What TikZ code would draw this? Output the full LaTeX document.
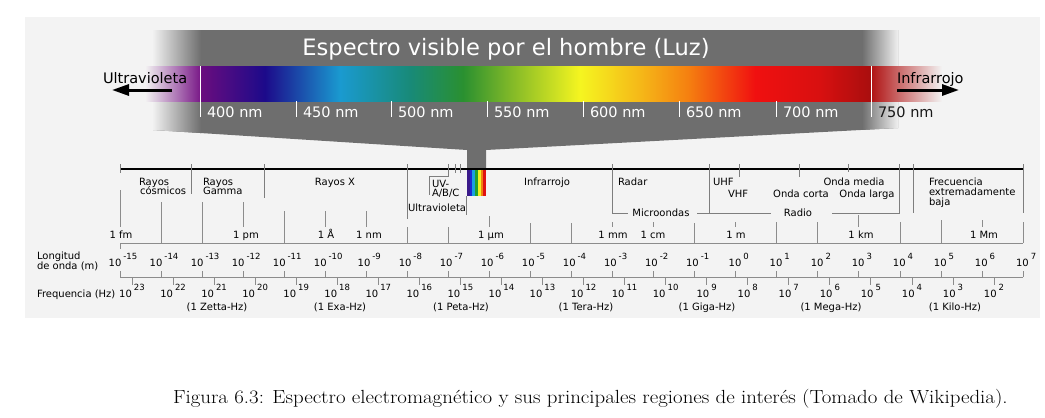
\documentclass[tikz,border=0pt]{standalone}
\usepackage{fontspec}
\newfontfamily\dv{DejaVu Sans}
\usetikzlibrary{arrows.meta}
\definecolor{panel}{HTML}{F3F3F3}
\definecolor{funnel}{HTML}{6E6E6E}
\definecolor{axisgray}{HTML}{8C8C8C}
\definecolor{uvpurple}{HTML}{7A1A88}
\definecolor{irred}{HTML}{B01212}
\definecolor{spA}{HTML}{6B0D7E}
\definecolor{spB}{HTML}{1C0A8A}
\definecolor{spC}{HTML}{1A9AD0}
\definecolor{spD}{HTML}{188A78}
\definecolor{spE}{HTML}{2A9030}
\definecolor{spF}{HTML}{80B828}
\definecolor{spG}{HTML}{F5F520}
\definecolor{spH}{HTML}{F5B818}
\definecolor{spI}{HTML}{F58010}
\definecolor{spJ}{HTML}{F01010}
\definecolor{spK}{HTML}{D81010}
\definecolor{spL}{HTML}{A80E0E}
\pgfdeclarehorizontalshading{spec}{100bp}{color(0bp)=(spA); color(25bp)=(spA); color(29.84bp)=(spB); color(35.43bp)=(spC); color(40.65bp)=(spD); color(44.6bp)=(spE); color(48.1bp)=(spF); color(53.32bp)=(spG); color(57.79bp)=(spH); color(61.36bp)=(spI); color(66.36bp)=(spJ); color(71.2bp)=(spK); color(75bp)=(spL); color(100bp)=(spL)}
\tikzset{
  big/.style={font=\dv\fontsize{14.5}{16}\selectfont},
  nmlbl/.style={big, text=white, anchor=base west},
  lbl/.style={font=\dv\fontsize{10}{12}\selectfont, anchor=base},
  lblw/.style={lbl, anchor=base west},
  axisline/.style={draw=axisgray, line width=0.9pt},
  divider/.style={draw=axisgray!90!black, line width=0.9pt},
  bigarrow/.style={line width=3pt, -{Triangle[length=17pt,width=11pt]}},
}
\newcommand{\expo}[2]{10\hspace{2pt}\raisebox{#2}{\fontsize{8.5}{9}\selectfont #1}}
\begin{document}
\begin{tikzpicture}[x=1pt,y=-1pt, every node/.style={inner sep=0pt, outer sep=0pt}]
\useasboundingbox (0,0) rectangle (1045,418);
\fill[white] (0,0) rectangle (1045,418);
\fill[panel] (25,17) rectangle (1040,318);
% funnel
\fill[funnel] (153,30) -- (898,30) -- (898,128) -- (486,150) -- (486,170) -- (467,170) -- (467,150) -- (153,130) -- cycle;
\begin{scope}
  \clip (153,30) -- (898,30) -- (898,128) -- (486,150) -- (467,150) -- (153,130) -- cycle;
  \shade[left color=panel, right color=funnel] (152,25) rectangle (201,140);
  \shade[left color=funnel, right color=panel] (862,25) rectangle (899,140);
\end{scope}
% visible bar
\shade[shading=spec] (200,66) rectangle (871,101);
\shade[left color=panel, right color=uvpurple] (145,66) rectangle (200,101);
\shade[left color=irred, right color=panel] (871,66) rectangle (942,101);
\node[font=\dv\fontsize{22.6}{24}\selectfont, text=white, anchor=base] (title) at (506,55) {Espectro visible por el hombre (Luz)};
% nm ticks
\foreach \xx/\t in {200/400,296/450,391/500,487/550,583/600,679/650,776/700}{
  \draw[white, line width=1pt] (\xx,101) -- (\xx,117);
  \node[nmlbl] (nm\t) at (\xx+7,117) {\t\ nm};
}
\draw[white, line width=1pt] (200,66) -- (200,101);
\draw[white, line width=1pt] (871,66) -- (871,117);
\node[big, anchor=base west, text=black!90] (nm750) at (878,117) {750 nm};
% UV / IR
\node[big, anchor=base west] (uvtxt) at (103,83) {Ultravioleta};
\coordinate (uvS) at (172,90); \coordinate (uvE) at (112,90);
\draw[bigarrow] (uvS) -- (uvE);
\node[big, anchor=base west] (irtxt) at (897,83) {Infrarrojo};
\coordinate (irS) at (897,90); \coordinate (irE) at (959,90);
\draw[bigarrow] (irS) -- (irE);
% mini rainbow
\foreach \c [count=\i from 0] in {3A1A8A,1A2AD0,18A0E0,20A030,F0F020,F08010,E01010}{
  \definecolor{tmpc}{HTML}{\c}
  \fill[tmpc] (467+\i*2.715,169) rectangle (467+\i*2.715+2.715,196);
}
% top region line
\draw[black, line width=1.2pt] (120,169) -- (1023,169);
% region dividers
\draw[divider] (120,164) -- (120,173);
\draw[divider] (191,164) -- (191,194);
\draw[divider] (264,164) -- (264,198);
\draw[divider] (407,164) -- (407,219);
\draw[divider] (455,164) -- (455,173);
\draw[divider] (460,164) -- (460,173);
\draw[divider] (448,164) -- (448,176) -- (429,176) -- (429,195);
\draw[divider] (466,196) -- (466,215);
\draw[divider] (612,164) -- (612,213) -- (628,213);
\draw[divider] (697,213) -- (771,213);
\draw[divider] (709,164) -- (709,213);
\draw[divider] (739,164) -- (739,177);
\draw[divider] (799,164) -- (799,177);
\draw[divider] (848,164) -- (848,172);
\draw[divider] (832,213) -- (899,213) -- (899,164);
\draw[divider] (913,164) -- (913,213);
\draw[divider] (1023,164) -- (1023,213);
% region labels
\node[lblw] (rc1) at (139,185) {Rayos};
\node[lblw] (rc2) at (140,194) {cósmicos};
\node[lblw] (rg1) at (203,185) {Rayos};
\node[lblw] (rg2) at (203,194) {Gamma};
\node[lbl] (rx) at (335,185) {Rayos X};
\node[lblw] (uv1) at (432,187) {UV-};
\node[lblw] (uv2) at (432,196) {A/B/C};
\node[lblw] (uv3) at (408,211) {Ultravioleta};
\node[lbl] (ir) at (547,185) {Infrarrojo};
\node[lblw] (radar) at (618,185) {Radar};
\node[lbl] (micro) at (661,216) {Microondas};
\node[lblw] (uhf) at (713,185) {UHF};
\node[lblw] (vhf) at (728,197.5) {VHF};
\node[lbl] (omed) at (854,185) {Onda media};
\node[lbl] (ocor) at (801,197.5) {Onda corta};
\node[lbl] (olar) at (867,197.5) {Onda larga};
\node[lbl] (radio) at (798,216) {Radio};
\node[lblw] (elf1) at (929,185) {Frecuencia};
\node[lblw] (elf2) at (929,195) {extremadamente};
\node[lblw] (elf3) at (929,205) {baja};
% wavelength decade lines above axis
\foreach \e/\a/\b in {-15/190/227,-14/202/243,-13/202/243,-12/202/227,-11/211/243,-10/211/227,-9/211/227,-8/227/243,-7/227/243,-6/216/227,-5/223/243,-4/223/243,-3/222/227,-2/222/227,-1/223/243,0/222/227,1/222/243,2/222/243,3/215/227,4/222/243,5/220/243,6/220/227,7/222/243}{
  \pgfmathsetmacro\xx{120+41.05*(\e+15)}
  \draw[axisline] (\xx,\a) -- (\xx,\b);
  \draw[axisline] (\xx,271) -- (\xx,277);
}
\draw[axisline] (120,243) -- (1023,243);
\draw[axisline] (120,277) -- (1023,277);
\draw[axisline] (120,243) -- (120,249);
% unit labels
\foreach \xx/\t [count=\i] in {121/1 fm,246/1 pm,326/1 Å,369/1 nm,491/1 µm,613/1 mm,653/1 cm,736/1 m,861/1 km,984/1 Mm}{
  \node[lbl] (unit\i) at (\xx,238) {\t};
}
% wavelength exponents
\foreach \e [count=\i] in {-15,...,7}{
  \pgfmathsetmacro\xx{120+41.05*(\e+15)}
  \node[lbl] (wl\i) at (\xx+3,266) {\expo{\e}{6.5pt}};
}
% frequency ticks and labels
\foreach \n [count=\i] in {23,22,...,2}{
  \pgfmathsetmacro\xf{132+41.05*(23-\n)}
  \draw[axisline] (\xf,277) -- (\xf,285);
  \node[lbl] (fq\i) at (\xf,297.7) {\expo{\n}{7pt}};
}
\foreach \xx/\t [count=\i] in {217/Zetta,340/Exa,461/Peta,586/Tera,707/Giga,831/Mega,955/Kilo}{
  \node[lbl] (pref\i) at (\xx,310.5) {(1 \t-Hz)};
}
\node[lblw] (lon1) at (37,259) {Longitud};
\node[lblw] (lon2) at (37,269) {de onda (m)};
\node[lblw] (frq) at (37,297) {Frequencia (Hz)};
% caption
\node[anchor=base west] (caption) at (173,403) {\scalebox{1.1}[1]{\fontsize{19}{22}\selectfont Figura 6.3: Espectro electromagnético y sus principales regiones de interés (Tomado de Wikipedia).}};
\end{tikzpicture}
\end{document}
